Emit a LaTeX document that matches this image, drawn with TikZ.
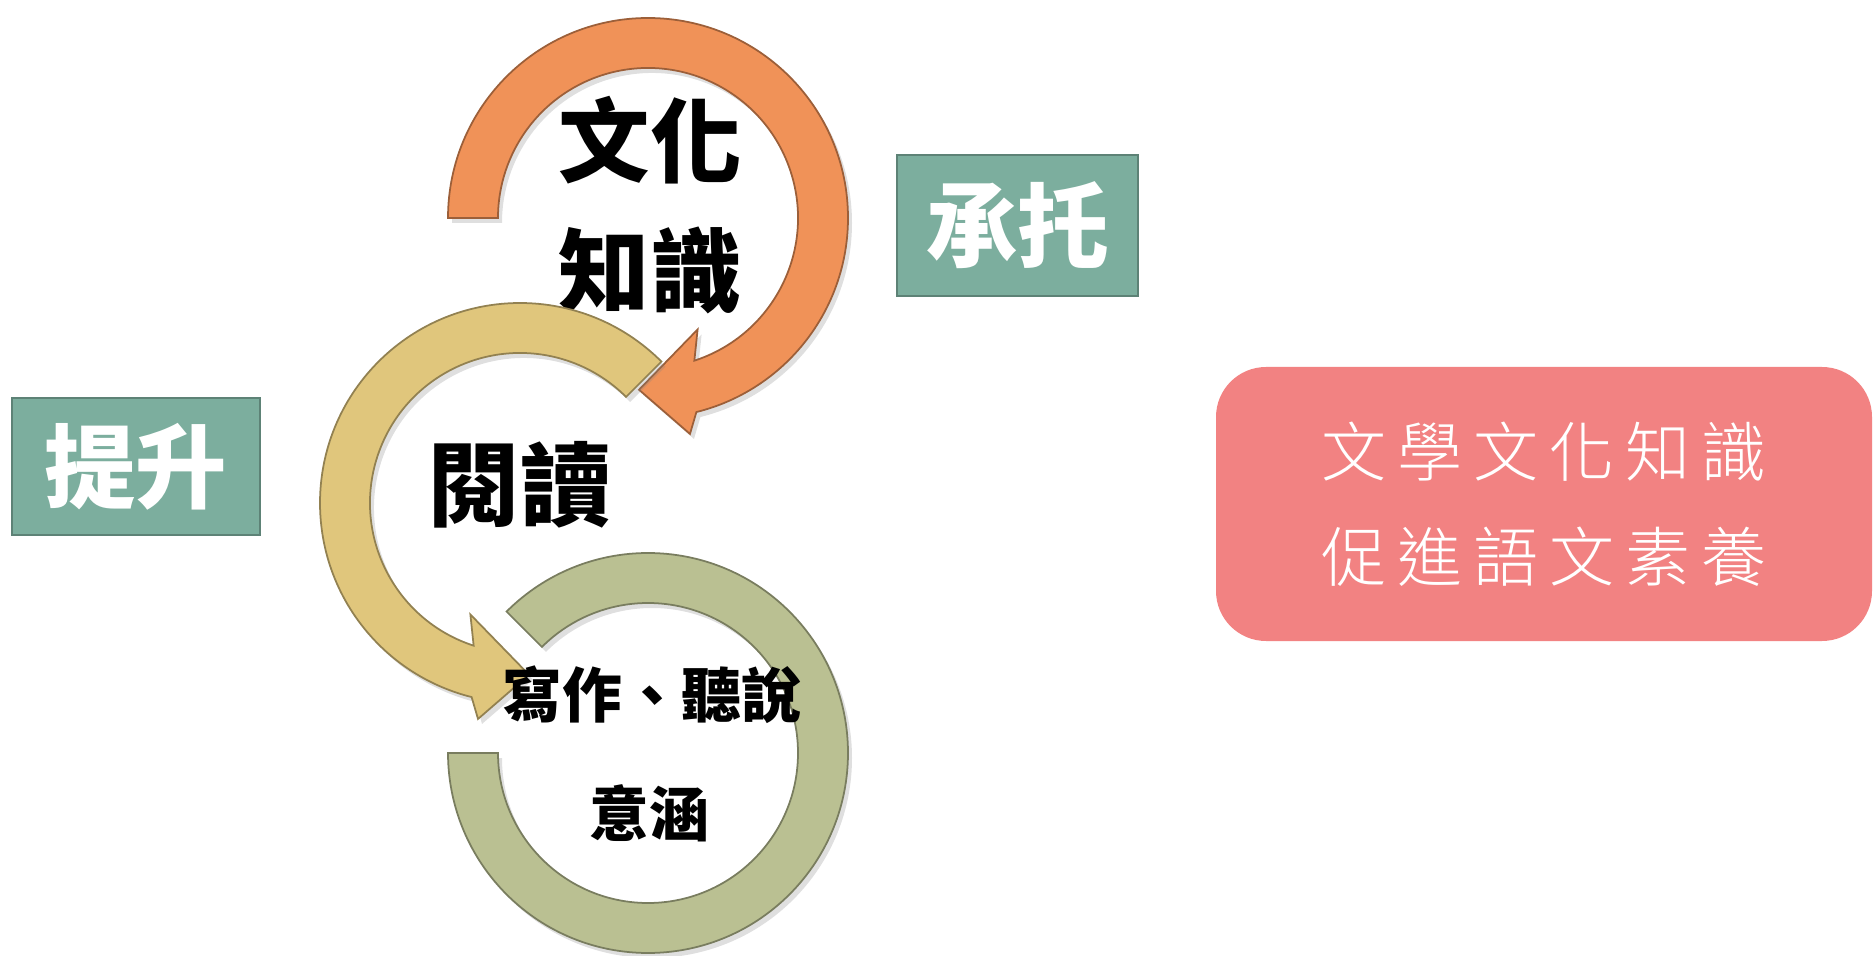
\documentclass[tikz,border=0pt]{standalone}
\usepackage{fontspec}
\newfontfamily\cjk{Noto Sans CJK TC}
\newfontfamily\cjkwide{Noto Sans CJK TC Light}[LetterSpace=17]
\usetikzlibrary{shadows}

\definecolor{ringorange}{RGB}{240,146,88}
\definecolor{ringyellow}{RGB}{224,198,124}
\definecolor{ringgreen}{RGB}{186,192,146}
\definecolor{tagteal}{RGB}{124,174,158}
\definecolor{notepink}{RGB}{242,130,130}

\begin{document}
\begin{tikzpicture}[
  ring/.style={draw=#1!65!black, line width=0.5pt, fill=#1,
    drop shadow={opacity=0.25, shadow xshift=0.04cm, shadow yshift=-0.05cm}},
  word/.style={font=\cjk\bfseries\fontsize{#1}{37}\selectfont, text=black, align=center},
  tag/.style={draw=tagteal!75!black, fill=tagteal, line width=0.6pt,
    font=\cjk\bfseries\fontsize{26}{26}\selectfont, text=white}
]
  \useasboundingbox (0,0) rectangle (18.73,9.55);

  \coordinate (O1) at (6.48,7.37);
  \coordinate (O2) at (5.20,4.52);
  \coordinate (O3) at (6.48,2.02);

  % orange ring with arrow
  \path[ring=ringorange] ([shift={(180:2)}]O1) arc[start angle=180, end angle=-76, radius=2]
    -- ([shift={(-79:2.2)}]O1) -- ([shift={(-93:1.72)}]O1) -- ([shift={(-66:1.22)}]O1)
    -- ([shift={(-72:1.5)}]O1) arc[start angle=-72, end angle=180, radius=1.5] -- cycle;
  \node[word=26] (culture) at (6.50,7.50) {文化\\知識};

  % green ring
  \path[ring=ringgreen] ([shift={(135:2)}]O3) arc[start angle=135, end angle=-180, radius=2]
    -- ([shift={(180:1.5)}]O3) arc[start angle=-180, end angle=135, radius=1.5] -- cycle;

  % yellow ring with arrow
  \path[ring=ringyellow] ([shift={(45:2)}]O2) arc[start angle=45, end angle=256, radius=2]
    -- ([shift={(259:2.2)}]O2) -- ([shift={(273:1.72)}]O2) -- ([shift={(246:1.22)}]O2)
    -- ([shift={(252:1.5)}]O2) arc[start angle=252, end angle=45, radius=1.5] -- cycle;

  \node[word=26] (reading) at (5.20,4.70) {閱讀};
  \node[word=17] (writing) at (6.52,2.60) {寫作、聽說};
  \node[word=17] (meaning) at (6.49,1.42) {意涵};

  \node[tag, minimum width=2.41cm, minimum height=1.41cm] (support) at (10.175,7.295) {承托};
  \node[tag, minimum width=2.48cm, minimum height=1.37cm] (raise) at (1.36,4.885) {提升};

  \node[fill=notepink, rounded corners=0.5cm, minimum width=6.56cm, minimum height=2.74cm,
    text=white, align=center, font=\cjkwide\fontsize{18.5}{30}\selectfont] (note) at (15.44,4.51)
    {文學文化知識\\促進語文素養};
\end{tikzpicture}
\end{document}
